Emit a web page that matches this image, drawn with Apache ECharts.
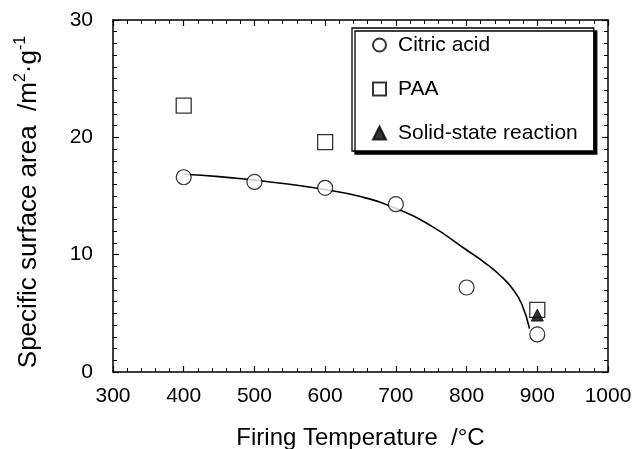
<!DOCTYPE html>
<html>
<head>
<meta charset="utf-8">
<script src="https://cdn.jsdelivr.net/npm/echarts@6/dist/echarts.min.js"></script>
<style>
  html, body { margin: 0; padding: 0; background: #fff; }
  #chart { width: 634px; height: 449px; }
</style>
</head>
<body>
<div id="chart"></div>
<script>
// values
var citricTemp = [400, 500, 600, 700, 800, 900];
var citricArea = [16.6, 16.2, 15.7, 14.3, 7.2, 3.2];
var paaTemp = [400, 600, 900];
var paaArea = [22.7, 19.6, 5.3];
var solidTemp = [900];
var solidArea = [4.85];
// fitted curve
var fitTemp = [400, 450, 500, 550, 600, 650, 700, 750, 800, 825, 850, 865, 878, 889];
var fitArea = [16.85, 16.65, 16.35, 16.0, 15.55, 14.95, 13.95, 12.45, 10.4, 9.35, 8.1, 7.1, 5.8, 3.7];

var xTicks = [300, 400, 500, 600, 700, 800, 900, 1000];
var yTicks = [0, 10, 20, 30];

var font = "'Liberation Sans', Arial, Helvetica, sans-serif";

function pairs(xs, ys) {
  return xs.map(function (x, i) { return [x, ys[i]]; });
}

function xAx(pos, showLabel) {
  return {
    type: 'value', position: pos,
    min: xTicks[0], max: xTicks[xTicks.length - 1], interval: 100,
    axisLine: { show: true, onZero: false, lineStyle: { color: '#000', width: 1.5 } },
    axisTick: { show: true, inside: true, length: 6, lineStyle: { color: '#000', width: 1.2 } },
    minorTick: { show: true, splitNumber: 5, length: 4, lineStyle: { color: '#000', width: 1 } },
    splitLine: { show: false },
    axisLabel: {
      show: showLabel, margin: 14, color: '#000', fontSize: 21, fontFamily: font,
      formatter: function (v) { return String(v); }
    },
    name: showLabel ? 'Firing Temperature  /°C' : '',
    nameLocation: 'middle', nameGap: 54,
    nameTextStyle: { color: '#000', fontSize: 24, fontFamily: font }
  };
}

function yAx(pos, showLabel) {
  return {
    type: 'value', position: pos,
    min: yTicks[0], max: yTicks[yTicks.length - 1], interval: 10,
    axisLine: { show: true, onZero: false, lineStyle: { color: '#000', width: 1.5 } },
    axisTick: { show: true, inside: true, length: 6, lineStyle: { color: '#000', width: 1.2 } },
    minorTick: { show: true, splitNumber: 10, length: 4, lineStyle: { color: '#000', width: 1 } },
    splitLine: { show: false },
    axisLabel: { show: showLabel, margin: 20, color: '#000', fontSize: 21, fontFamily: font },
    name: showLabel ? '{t|Specific surface area  /m}{s|2}{t|·g}{s|-1}' : '',
    nameLocation: 'middle', nameGap: 68, nameRotate: 90,
    nameTextStyle: {
      color: '#000',
      padding: [0, 12, 0, 0],
      rich: {
        t: { fontSize: 26, fontFamily: font, color: '#000', lineHeight: 32 },
        s: { fontSize: 16, fontFamily: font, color: '#000', lineHeight: 16, verticalAlign: 'top' }
      }
    }
  };
}

var chart = echarts.init(document.getElementById('chart'), null, { renderer: 'canvas' });

var option = {
  animation: false,
  backgroundColor: '#fff',
  grid: { left: 113, right: 26, top: 20, bottom: 77, containLabel: false, outerBoundsMode: 'none' },
  xAxis: [xAx('bottom', true), xAx('top', false)],
  yAxis: [yAx('left', true), yAx('right', false)],
  legend: {
    data: ['Citric acid', 'PAA', 'Solid-state reaction'],
    orient: 'vertical',
    left: 352, top: 28,
    padding: [5, 16, 6, 20],
    itemGap: 20,
    itemWidth: 13, itemHeight: 13,
    backgroundColor: '#fff',
    borderColor: '#000', borderWidth: 1.3,
    shadowColor: '#000', shadowBlur: 0, shadowOffsetX: 3, shadowOffsetY: 3,
    textStyle: { color: '#000', fontSize: 21, fontFamily: font, lineHeight: 24, padding: [0, 0, 0, 7] }
  },
  series: [
    {
      name: 'fit', type: 'line', smooth: 0.5, showSymbol: false, symbol: 'none',
      data: pairs(fitTemp, fitArea),
      lineStyle: { color: '#000', width: 1.6 }, z: 2, silent: true
    },
    {
      name: 'Citric acid', type: 'scatter', symbol: 'circle', symbolSize: 15,
      data: pairs(citricTemp, citricArea),
      itemStyle: { color: '#fff', borderColor: '#000', borderWidth: 1.2 }, z: 3
    },
    {
      name: 'PAA', type: 'scatter', symbol: 'rect', symbolSize: 15,
      data: pairs(paaTemp, paaArea),
      itemStyle: { color: '#fff', borderColor: '#000', borderWidth: 1.3 }, z: 3
    },
    {
      name: 'Solid-state reaction', type: 'scatter', symbol: 'triangle', symbolSize: 12,
      data: pairs(solidTemp, solidArea),
      itemStyle: { color: '#000', borderColor: '#000', borderWidth: 1 }, z: 4
    }
  ]
};

chart.setOption(option);
</script>
</body>
</html>
